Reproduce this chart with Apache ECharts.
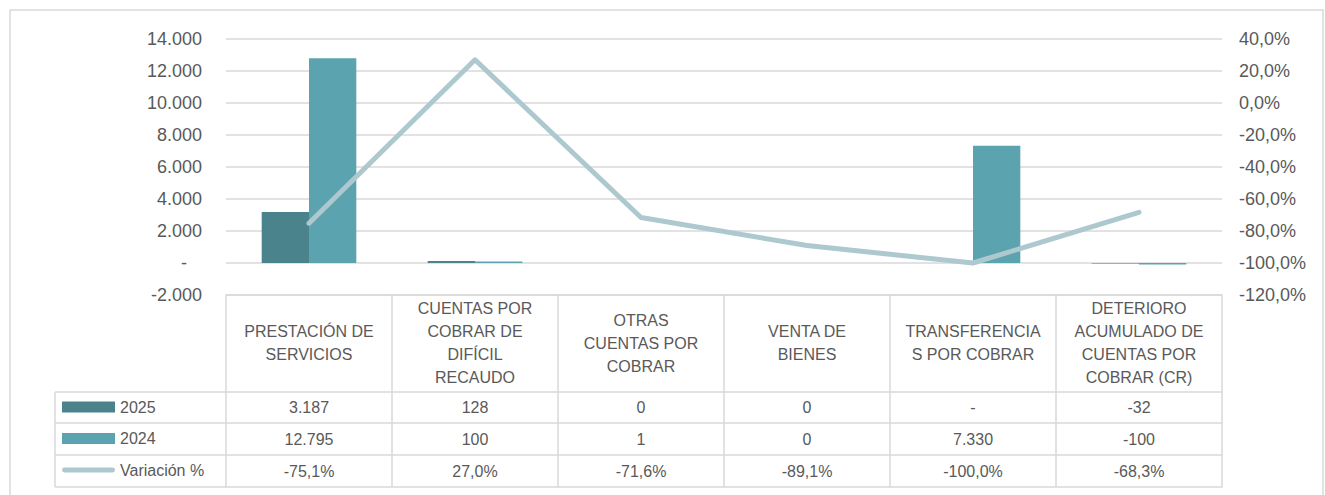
<!DOCTYPE html>
<html>
<head>
<meta charset="utf-8">
<script src="https://cdn.jsdelivr.net/npm/echarts@6/dist/echarts.min.js"></script>
<style>
  html, body { margin: 0; padding: 0; background: #fff; }
  #chart { width: 1325px; height: 495px; }
</style>
</head>
<body>
<div id="chart"></div>
<script>
// datos del grafico
var categorias = ['PRESTACIÓN DE\nSERVICIOS', 'CUENTAS POR\nCOBRAR DE\nDIFÍCIL\nRECAUDO', 'OTRAS\nCUENTAS POR\nCOBRAR', 'VENTA DE\nBIENES', 'TRANSFERENCIA\nS POR COBRAR', 'DETERIORO\nACUMULADO DE\nCUENTAS POR\nCOBRAR (CR)'];
var valores2025 = [3187, 128, 0, 0, null, -32];
var valores2024 = [12795, 100, 1, 0, 7330, -100];
var variacion = [-75.1, 27.0, -71.6, -89.1, -100.0, -68.3];
var ticksIzq = [-2000, 0, 2000, 4000, 6000, 8000, 10000, 12000, 14000];
var ticksDer = [-120, -100, -80, -60, -40, -20, 0, 20, 40];

var gris = '#d9d9d9';
var texto = '#595959';
var fuente = "'Liberation Sans', Arial, sans-serif";

function miles(n) {
  if (n === null || n === undefined) return '-';
  var s = String(Math.abs(n)).replace(/\B(?=(\d{3})+(?!\d))/g, '.');
  return (n < 0 ? '-' : '') + s;
}
function pct(n) {
  return n.toFixed(1).replace('.', ',') + '%';
}

var myChart = echarts.init(document.getElementById('chart'), null, { renderer: 'svg' });

// fila de la tabla de datos como eje de categorias extra
function filaEje(offset, textos, conTicks, alto) {
  return {
    type: 'category',
    gridIndex: 0,
    position: 'bottom',
    offset: offset,
    data: categorias,
    axisLine: { show: true, onZero: false, lineStyle: { color: gris, width: 1.5 } },
    axisTick: { show: conTicks, length: alto, lineStyle: { color: gris, width: 1.5 } },
    axisLabel: {
      show: !!textos,
      interval: 0,
      margin: alto / 2,
      verticalAlign: 'middle',
      color: texto,
      fontSize: 16,
      fontFamily: fuente,
      formatter: function (v, i) { return textos ? textos[i] : ''; }
    },
    splitLine: { show: false }
  };
}

// icono de linea gruesa con extremos redondeados para la leyenda
var iconoLinea = 'path://M0,0 L0,0 M54,11 L54,11 M2.5,3 L51.5,3 A2.5,2.5 0 0 1 51.5,8 L2.5,8 A2.5,2.5 0 0 1 2.5,3 Z';

var option = {
  animation: false,
  textStyle: { fontFamily: fuente },
  grid: { left: 226, right: 103, top: 39, bottom: 200, containLabel: false },
  legend: {
    orient: 'vertical',
    left: 62,
    top: 397,
    padding: 0,
    itemWidth: 53,
    itemHeight: 11,
    itemGap: 11.5,
    textStyle: { color: texto, fontSize: 16, lineHeight: 20, fontFamily: fuente },
    data: [
      { name: '2025', icon: 'rect' },
      { name: '2024', icon: 'rect' },
      { name: 'Variación %', icon: iconoLinea }
    ]
  },
  xAxis: [
    {
      type: 'category',
      data: categorias,
      axisLine: { show: true, onZero: false, lineStyle: { color: gris, width: 1.5 } },
      axisTick: { show: true, length: 97, lineStyle: { color: gris, width: 1.5 } },
      axisLabel: {
        interval: 0,
        margin: 48,
        verticalAlign: 'middle',
        color: texto,
        fontSize: 16,
        lineHeight: 23,
        fontFamily: fuente
      }
    },
    filaEje(97, valores2025.map(miles), true, 31),
    filaEje(128, valores2024.map(miles), true, 32),
    filaEje(160, variacion.map(pct), true, 32),
    filaEje(192, null, false, 0)
  ],
  yAxis: [
    {
      type: 'value',
      min: ticksIzq[0],
      max: ticksIzq[ticksIzq.length - 1],
      interval: 2000,
      axisLine: { show: false },
      axisTick: { show: false },
      splitLine: { lineStyle: { color: gris, width: 1.5 } },
      axisLabel: {
        margin: 24,
        color: texto,
        fontSize: 18,
        fontFamily: fuente,
        formatter: function (v) { return v === 0 ? '-\u00a0\u00a0\u00a0' : miles(v); }
      }
    },
    {
      type: 'value',
      position: 'right',
      min: ticksDer[0],
      max: ticksDer[ticksDer.length - 1],
      interval: 20,
      axisLine: { show: false },
      axisTick: { show: false },
      splitLine: { show: false },
      axisLabel: {
        margin: 17,
        color: texto,
        fontSize: 18,
        fontFamily: fuente,
        formatter: function (v) { return pct(v); }
      }
    }
  ],
  series: [
    {
      name: '2025',
      type: 'bar',
      data: valores2025,
      barGap: '0%',
      barCategoryGap: '43%',
      itemStyle: { color: '#4a838c' }
    },
    {
      name: '2024',
      type: 'bar',
      data: valores2024,
      itemStyle: { color: '#5ba3ae' }
    },
    {
      name: 'Variación %',
      type: 'line',
      yAxisIndex: 1,
      data: variacion,
      symbol: 'none',
      itemStyle: { color: '#adc9cf' },
      lineStyle: { color: '#adc9cf', width: 5, cap: 'round', join: 'round' }
    }
  ],
  graphic: [
    { type: 'rect', silent: true, z: -1, shape: { x: 10, y: 10, width: 1313, height: 500 }, style: { fill: 'none', stroke: gris, lineWidth: 1.5 } },
    { type: 'line', silent: true, shape: { x1: 55, y1: 392, x2: 226, y2: 392 }, style: { stroke: gris, lineWidth: 1.5 } },
    { type: 'line', silent: true, shape: { x1: 55, y1: 423, x2: 226, y2: 423 }, style: { stroke: gris, lineWidth: 1.5 } },
    { type: 'line', silent: true, shape: { x1: 55, y1: 455, x2: 226, y2: 455 }, style: { stroke: gris, lineWidth: 1.5 } },
    { type: 'line', silent: true, shape: { x1: 55, y1: 487, x2: 226, y2: 487 }, style: { stroke: gris, lineWidth: 1.5 } },
    { type: 'line', silent: true, shape: { x1: 55, y1: 392, x2: 55, y2: 487 }, style: { stroke: gris, lineWidth: 1.5 } }
  ]
};

myChart.setOption(option);
</script>
</body>
</html>
